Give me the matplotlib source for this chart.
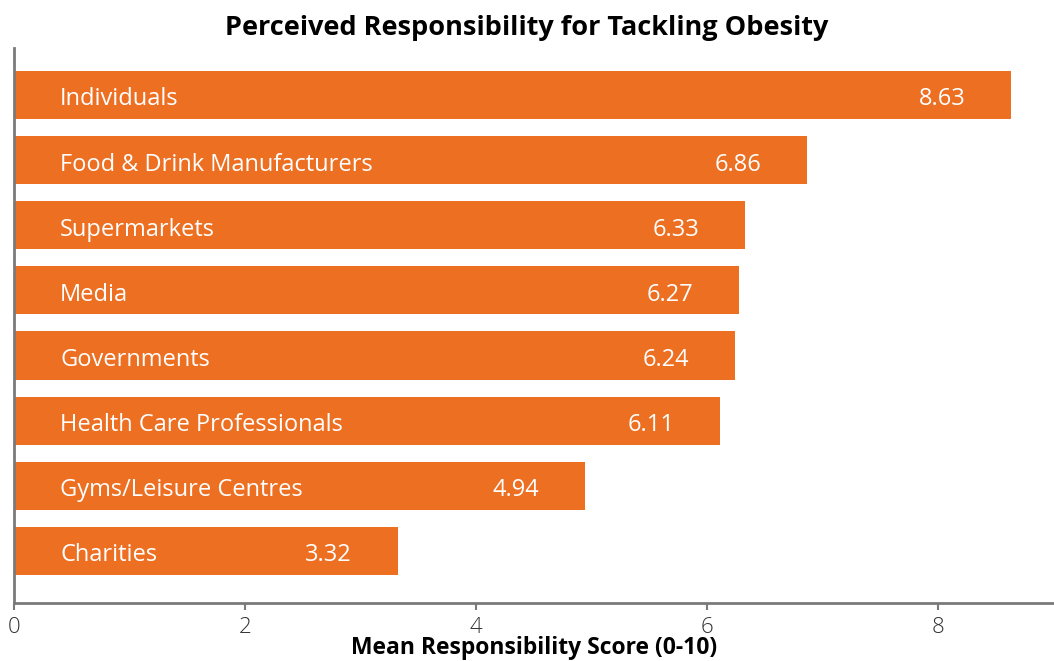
import matplotlib
matplotlib.use("Agg")
import matplotlib.pyplot as plt

categories = ["Individuals", "Food & Drink Manufacturers", "Supermarkets", "Media",
              "Governments", "Health Care Professionals", "Gyms/Leisure Centres", "Charities"]
scores = [8.63, 6.86, 6.33, 6.27, 6.24, 6.11, 4.94, 3.32]
x_ticks = [0, 2, 4, 6, 8]

plt.rcParams["font.family"] = ["Open Sans", "DejaVu Sans"]

BAR = "#EC6F22"
AXIS = "#7a7a7a"

fig = plt.figure(figsize=(10.54, 6.61), dpi=100)
ax = fig.add_axes([14 / 1054, 1 - 603 / 661, 1040 / 1054, 555 / 661])

ypos = list(range(len(categories)))
ax.barh(ypos, scores, height=0.74, color=BAR, zorder=2)

for y, name, val in zip(ypos, categories, scores):
    ax.text(0.4, y + 0.07, name, color="white", fontsize=17, va="center", ha="left", zorder=3)
    ax.text(val - 0.395, y + 0.07, f"{val:.2f}", color="white", fontsize=17,
            va="center", ha="right", zorder=3)

ax.set_xlim(0, 9)
ax.set_ylim(7.8, -0.72)
ax.set_yticks([])
ax.set_xticks(x_ticks)
ax.set_xticklabels([str(t) for t in x_ticks], fontsize=16, color="#333333",
                   fontweight="light")
ax.tick_params(axis="x", length=5, width=1.5, color=AXIS, pad=5)

for side in ("top", "right"):
    ax.spines[side].set_visible(False)
for side in ("left", "bottom"):
    ax.spines[side].set_color(AXIS)
    ax.spines[side].set_linewidth(2)

ax.set_xlabel("Mean Responsibility Score (0-10)", fontsize=16.5, fontweight="bold", labelpad=-1)
fig.text(0.5, 1 - 28 / 661, "Perceived Responsibility for Tackling Obesity",
         ha="center", va="center", fontsize=19.5, fontweight="bold")

fig.savefig("out.png", dpi=100)
